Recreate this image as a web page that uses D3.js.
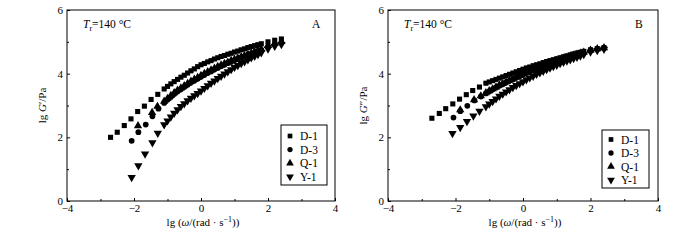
<!DOCTYPE html>
<html>
<head>
<meta charset="utf-8">
<script src="https://cdn.jsdelivr.net/npm/d3@7"></script>
<style>
  body { margin: 0; background: #fff; }
  svg { font-family: "Liberation Serif", "DejaVu Serif", serif; }
  .axis path, .axis line { stroke: #000; }
  .axis text { font-size: 11px; fill: #000; font-family: "Liberation Serif", serif; }
</style>
</head>
<body>
<svg id="chart" width="700" height="240"></svg>
<script>
// shared frequency grid (lg omega) for the dense part and the high end
let denseW = [-1.1, -1.0, -0.9, -0.8, -0.7, -0.6, -0.5, -0.4, -0.3, -0.2, -0.1, 0.0,
              0.1, 0.2, 0.3, 0.4, 0.5, 0.6, 0.7, 0.8, 0.9, 1.0, 1.1, 1.2, 1.3, 1.4,
              1.5, 1.6, 1.7, 1.8];
let endW = [2.0, 2.2, 2.4];

let seriesNames = ["D-1", "D-3", "Q-1", "Y-1"];

// panel A : lg G'
let aD1LowW = [-2.70, -2.50, -2.29, -2.09, -1.89, -1.69, -1.49, -1.29];
let aD1LowG = [2.00, 2.16, 2.37, 2.58, 2.81, 2.98, 3.19, 3.35];
let aD1Dense = [3.52, 3.60, 3.68, 3.75, 3.82, 3.89, 3.95, 4.02, 4.09, 4.15, 4.22, 4.28,
                4.32, 4.37, 4.41, 4.46, 4.50, 4.54, 4.57, 4.61, 4.64, 4.68, 4.71, 4.75,
                4.78, 4.82, 4.85, 4.88, 4.91, 4.94];
let aD1End = [5.00, 5.05, 5.09];

let aD3LowW = [-2.07, -1.87, -1.65, -1.45, -1.27];
let aD3LowG = [1.89, 2.16, 2.40, 2.66, 2.90];
let aD3Dense = [3.08, 3.18, 3.27, 3.36, 3.44, 3.51, 3.58, 3.65, 3.72, 3.78, 3.84, 3.90,
                3.96, 4.02, 4.07, 4.13, 4.18, 4.23, 4.28, 4.33, 4.37, 4.42, 4.46, 4.50,
                4.54, 4.58, 4.62, 4.66, 4.70, 4.74];
let aD3End = [4.85, 4.92, 4.97];

let aQ1LowW = [-1.88, -1.46, -1.30];
let aQ1LowG = [2.36, 2.78, 2.97];
let aQ1Dense = [3.13, 3.22, 3.31, 3.40, 3.48, 3.55, 3.62, 3.69, 3.76, 3.82, 3.88, 3.94,
                4.00, 4.06, 4.11, 4.17, 4.22, 4.27, 4.32, 4.36, 4.41, 4.45, 4.49, 4.53,
                4.57, 4.61, 4.65, 4.69, 4.73, 4.77];
let aQ1End = [4.88, 4.95, 5.01];

let aY1LowW = [-2.07, -1.87, -1.67, -1.45, -1.29];
let aY1LowG = [0.74, 1.11, 1.48, 1.83, 2.13];
let aY1Dense = [2.40, 2.52, 2.64, 2.76, 2.87, 2.97, 3.06, 3.15, 3.23, 3.31, 3.38, 3.46,
                3.54, 3.62, 3.70, 3.77, 3.85, 3.92, 3.99, 4.06, 4.13, 4.20, 4.26, 4.32,
                4.38, 4.44, 4.50, 4.55, 4.60, 4.66];
let aY1End = [4.78, 4.86, 4.92];

// panel B : lg G''
let bD1LowW = [-2.70, -2.48, -2.29, -2.08, -1.88, -1.68, -1.49, -1.29];
let bD1LowG = [2.60, 2.75, 2.90, 3.05, 3.20, 3.34, 3.47, 3.58];
let bD1Dense = [3.70, 3.74, 3.78, 3.82, 3.86, 3.90, 3.94, 3.98, 4.02, 4.06, 4.10, 4.14,
                4.18, 4.21, 4.25, 4.28, 4.31, 4.35, 4.38, 4.41, 4.44, 4.47, 4.50, 4.53,
                4.56, 4.59, 4.62, 4.65, 4.67, 4.70];
let bD1End = [4.75, 4.79, 4.82];

let bD3LowW = [-2.06, -1.86, -1.65, -1.44, -1.25];
let bD3LowG = [2.62, 2.82, 2.99, 3.16, 3.28];
let bD3Dense = [3.38, 3.44, 3.50, 3.56, 3.62, 3.67, 3.72, 3.77, 3.82, 3.87, 3.92, 3.97,
                4.02, 4.06, 4.11, 4.15, 4.19, 4.23, 4.27, 4.31, 4.35, 4.39, 4.42, 4.46,
                4.49, 4.53, 4.56, 4.59, 4.62, 4.65];
let bD3End = [4.72, 4.77, 4.80];

let bQ1LowW = [-1.86, -1.45, -1.25];
let bQ1LowG = [2.86, 3.18, 3.30];
let bQ1Dense = [3.40, 3.46, 3.52, 3.58, 3.64, 3.69, 3.74, 3.79, 3.84, 3.89, 3.94, 3.99,
                4.04, 4.08, 4.13, 4.17, 4.21, 4.25, 4.29, 4.33, 4.37, 4.41, 4.44, 4.48,
                4.51, 4.55, 4.58, 4.61, 4.64, 4.67];
let bQ1End = [4.73, 4.78, 4.81];

let bY1LowW = [-2.09, -1.86, -1.66, -1.47, -1.29];
let bY1LowG = [2.12, 2.31, 2.50, 2.67, 2.82];
let bY1Dense = [2.96, 3.05, 3.13, 3.21, 3.29, 3.36, 3.43, 3.50, 3.57, 3.63, 3.69, 3.75,
                3.81, 3.87, 3.92, 3.98, 4.03, 4.08, 4.13, 4.18, 4.23, 4.27, 4.32, 4.36,
                4.40, 4.44, 4.48, 4.52, 4.56, 4.60];
let bY1End = [4.68, 4.73, 4.77];

let xTicks = [-4, -2, 0, 2, 4],
    xMinor = [-3, -1, 1, 3],
    yTicks = [0, 2, 4, 6],
    yMinor = [1, 3, 5];

function build(lowW, lowG, dense, end) {
  let w = lowW.concat(denseW, endW),
      g = lowG.concat(dense, end);
  return w.map((d, i) => ({w: d, g: g[i]}));
}

let panels = [
  {
    tag: "A", prime: "\u2032",
    box: {left: 67, right: 335, top: 10, bottom: 201},
    legend: {x: 281, y: 125, w: 46, h: 60, first: 11, row: 13.6},
    series: [
      build(aD1LowW, aD1LowG, aD1Dense, aD1End),
      build(aD3LowW, aD3LowG, aD3Dense, aD3End),
      build(aQ1LowW, aQ1LowG, aQ1Dense, aQ1End),
      build(aY1LowW, aY1LowG, aY1Dense, aY1End)
    ]
  },
  {
    tag: "B", prime: "\u2033",
    box: {left: 388, right: 658, top: 10, bottom: 201},
    legend: {x: 602, y: 130, w: 47, h: 58, first: 9.5, row: 13.5},
    series: [
      build(bD1LowW, bD1LowG, bD1Dense, bD1End),
      build(bD3LowW, bD3LowG, bD3Dense, bD3End),
      build(bQ1LowW, bQ1LowG, bQ1Dense, bQ1End),
      build(bY1LowW, bY1LowG, bY1Dense, bY1End)
    ]
  }
];

let symbols = [
  {type: d3.symbolSquare, size: 26, rot: 0},
  {type: d3.symbolCircle, size: 26, rot: 0},
  {type: d3.symbolTriangle, size: 30, rot: 0},
  {type: d3.symbolTriangle, size: 30, rot: 180}
];

let svg = d3.select("#chart");

function fmt(d) { return d < 0 ? "\u2212" + (-d) : "" + d; }

function drawPanel(p) {
  let b = p.box;
  let x = d3.scaleLinear().domain([-4, 4]).range([b.left, b.right]),
      y = d3.scaleLinear().domain([0, 6]).range([b.bottom, b.top]);

  let g = svg.append("g");

  // frame
  g.append("rect")
    .attr("x", b.left).attr("y", b.top)
    .attr("width", b.right - b.left).attr("height", b.bottom - b.top)
    .attr("fill", "none").attr("stroke", "#000").attr("stroke-width", 1);

  g.append("g").attr("class", "axis")
    .attr("transform", `translate(0,${b.bottom})`)
    .call(d3.axisBottom(x).tickValues(xTicks).tickFormat(fmt).tickSize(-3).tickPadding(3))
    .call(s => s.select(".domain").remove());
  g.append("g").attr("class", "axis")
    .attr("transform", `translate(0,${b.bottom})`)
    .call(d3.axisBottom(x).tickValues(xMinor).tickFormat("").tickSize(-2))
    .call(s => s.select(".domain").remove());

  g.append("g").attr("class", "axis")
    .attr("transform", `translate(${b.left},0)`)
    .call(d3.axisLeft(y).tickValues(yTicks).tickFormat(fmt).tickSize(-3).tickPadding(4))
    .call(s => s.select(".domain").remove());
  g.append("g").attr("class", "axis")
    .attr("transform", `translate(${b.left},0)`)
    .call(d3.axisLeft(y).tickValues(yMinor).tickFormat("").tickSize(-2))
    .call(s => s.select(".domain").remove());

  // data
  p.series.forEach((data, i) => {
    let sym = symbols[i];
    g.append("g").selectAll("path")
      .data(data).enter()
      .append("path")
      .attr("d", d3.symbol().type(sym.type).size(sym.size))
      .attr("transform", d => `translate(${x(d.w)},${y(d.g)}) rotate(${sym.rot})`)
      .attr("fill", "#000");
  });

  // axis titles
  let xt = g.append("text")
    .attr("x", (b.left + b.right) / 2 + 2).attr("y", 226)
    .attr("text-anchor", "middle").attr("font-size", 11);
  xt.append("tspan").text("lg (");
  xt.append("tspan").attr("font-style", "italic").text("\u03c9");
  xt.append("tspan").text("/(rad \u00b7 s");
  xt.append("tspan").attr("dy", -4).attr("font-size", 8).text("\u22121");
  xt.append("tspan").attr("dy", 4).text("))");

  let yt = g.append("text")
    .attr("transform", `translate(${b.left - 21},${(b.top + b.bottom) / 2}) rotate(-90)`)
    .attr("text-anchor", "middle").attr("font-size", 11);
  yt.append("tspan").text("lg ");
  yt.append("tspan").attr("font-style", "italic").text("G");
  yt.append("tspan").text(p.prime + "/Pa");

  // temperature note
  let tt = g.append("text")
    .attr("x", b.left + 16).attr("y", 28).attr("font-size", 11.5);
  tt.append("tspan").attr("font-style", "italic").text("T");
  tt.append("tspan").attr("dy", 3).attr("font-size", 8).text("r");
  tt.append("tspan").attr("dy", -3).text("=140 \u00b0C");

  g.append("text")
    .attr("x", b.right - 23).attr("y", 28).attr("font-size", 11.5)
    .text(p.tag);

  // legend
  let L = p.legend;
  let lg = g.append("g").attr("transform", `translate(${L.x},${L.y})`);
  lg.append("rect").attr("width", L.w).attr("height", L.h)
    .attr("fill", "#fff").attr("stroke", "#000");
  seriesNames.forEach((name, i) => {
    let sym = symbols[i],
        cy = L.first + i * L.row;
    lg.append("path")
      .attr("d", d3.symbol().type(sym.type).size(sym.size - 4))
      .attr("transform", `translate(9,${cy}) rotate(${sym.rot})`)
      .attr("fill", "#000");
    lg.append("text").attr("x", 19).attr("y", cy + 4)
      .attr("font-size", 11.5).text(name);
  });
}

panels.forEach(drawPanel);
</script>
</body>
</html>
